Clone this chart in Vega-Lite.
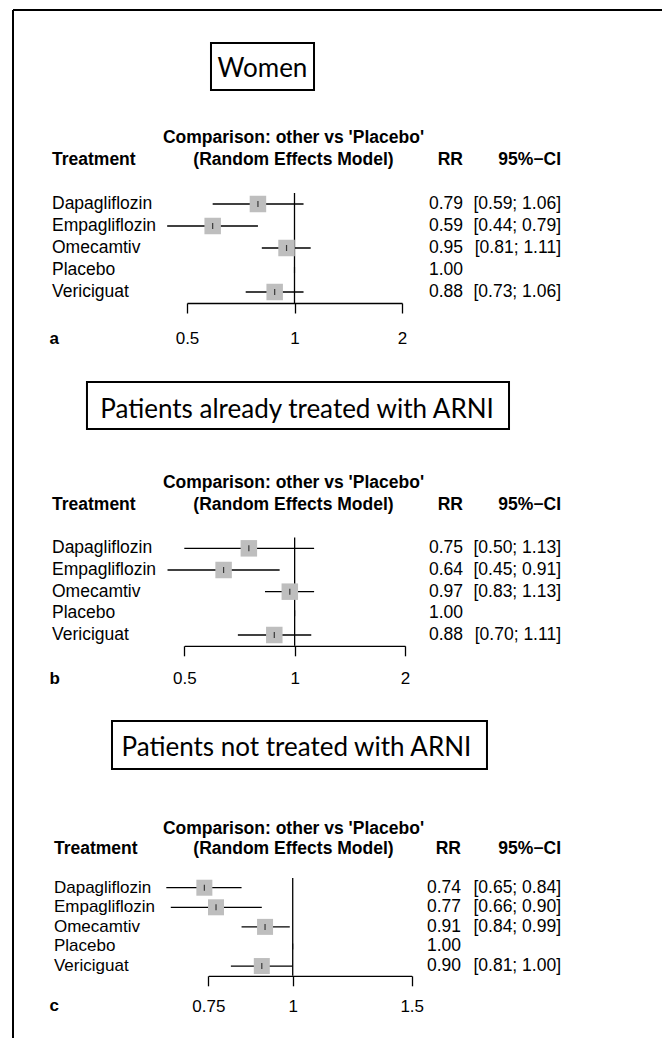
{
  "$schema": "https://vega.github.io/schema/vega-lite/v6.json",
  "padding": {"left": 12, "top": 9, "right": 0, "bottom": 0},
  "background": "white",
  "spacing": 0,
  "bounds": "flush",
  "config": {"view": {"stroke": null}, "font": "Liberation Sans"},
  "datasets": {
    "women": [
      {"Treatment": "Dapagliflozin", "RR": 0.79, "lower": 0.59, "upper": 1.06, "CI": "[0.59; 1.06]"},
      {"Treatment": "Empagliflozin", "RR": 0.59, "lower": 0.44, "upper": 0.79, "CI": "[0.44; 0.79]"},
      {"Treatment": "Omecamtiv", "RR": 0.95, "lower": 0.81, "upper": 1.11, "CI": "[0.81; 1.11]"},
      {"Treatment": "Placebo", "RR": 1.0, "lower": null, "upper": null, "CI": ""},
      {"Treatment": "Vericiguat", "RR": 0.88, "lower": 0.73, "upper": 1.06, "CI": "[0.73; 1.06]"}
    ],
    "arni": [
      {"Treatment": "Dapagliflozin", "RR": 0.75, "lower": 0.50, "upper": 1.13, "CI": "[0.50; 1.13]"},
      {"Treatment": "Empagliflozin", "RR": 0.64, "lower": 0.45, "upper": 0.91, "CI": "[0.45; 0.91]"},
      {"Treatment": "Omecamtiv", "RR": 0.97, "lower": 0.83, "upper": 1.13, "CI": "[0.83; 1.13]"},
      {"Treatment": "Placebo", "RR": 1.0, "lower": null, "upper": null, "CI": ""},
      {"Treatment": "Vericiguat", "RR": 0.88, "lower": 0.70, "upper": 1.11, "CI": "[0.70; 1.11]"}
    ],
    "noarni": [
      {"Treatment": "Dapagliflozin", "RR": 0.74, "lower": 0.65, "upper": 0.84, "CI": "[0.65; 0.84]"},
      {"Treatment": "Empagliflozin", "RR": 0.77, "lower": 0.66, "upper": 0.90, "CI": "[0.66; 0.90]"},
      {"Treatment": "Omecamtiv", "RR": 0.91, "lower": 0.84, "upper": 0.99, "CI": "[0.84; 0.99]"},
      {"Treatment": "Placebo", "RR": 1.0, "lower": null, "upper": null, "CI": ""},
      {"Treatment": "Vericiguat", "RR": 0.90, "lower": 0.81, "upper": 1.00, "CI": "[0.81; 1.00]"}
    ]
  },
  "vconcat": [
    {
      "width": 650, "height": 351,
      "data": {"name": "women"},
      "resolve": {"scale": {"x": "independent", "y": "independent"}},
      "layer": [
        {
          "data": {"values": [{}]},
          "layer": [
            {"mark": {"type": "rule", "color": "black", "strokeWidth": 2},
             "encoding": {
               "x": {"datum": 0, "type": "quantitative", "scale": {"domain": [0, 1], "nice": false, "zero": false}, "axis": null},
               "x2": {"datum": 1},
               "y": {"datum": 0, "type": "quantitative", "scale": {"domain": [0, 1], "reverse": true, "nice": false, "zero": false}, "axis": null}}},
            {"mark": {"type": "rule", "color": "black", "strokeWidth": 2},
             "encoding": {"x": {"datum": 0, "type": "quantitative"}, "y": {"datum": 0, "type": "quantitative"}, "y2": {"datum": 1}}},
            {"mark": {"type": "rect", "fill": "white", "stroke": "black", "strokeWidth": 2},
             "encoding": {"x": {"datum": 0.3046, "type": "quantitative"}, "x2": {"datum": 0.4631}, "y": {"datum": 0.094, "type": "quantitative"}, "y2": {"datum": 0.2279}}},
            {"mark": {"type": "text", "text": "Women", "font": "Lato", "fontSize": 26, "align": "center", "baseline": "alphabetic", "color": "black"},
             "encoding": {"x": {"datum": 0.3838, "type": "quantitative"}, "y": {"datum": 0.1909, "type": "quantitative"}}}
          ]
        },
        {
          "layer": [
            {"mark": {"type": "rule", "color": "black", "strokeWidth": 1.3},
             "encoding": {
               "x": {"field": "lower", "type": "quantitative",
                     "scale": {"type": "log", "domain": [0.5, 2], "range": [174, 389], "nice": false},
                     "axis": {"orient": "bottom", "values": [0.5, 1, 2], "format": "~g", "domain": true, "domainColor": "black", "domainWidth": 1.3, "ticks": true, "tickSize": 10, "tickColor": "black", "tickWidth": 1.3, "grid": false, "labelFontSize": 17, "labelColor": "black", "labelBaseline": "alphabetic", "labelPadding": 30, "labelFlush": false, "labelOverlap": false, "offset": -58, "title": "a", "titleFontSize": 17, "titleFontWeight": "bold", "titleColor": "black", "titleX": 36, "titleY": 40, "titleAlign": "left", "titleBaseline": "alphabetic"}},
               "x2": {"field": "upper"},
               "y": {"field": "Treatment", "type": "nominal",
                     "scale": {"type": "band", "domain": ["h1", "h2", "gap", "Dapagliflozin", "Empagliflozin", "Omecamtiv", "Placebo", "Vericiguat", "axis"], "range": [117, 315], "paddingInner": 0, "paddingOuter": 0},
                     "axis": null}}},
            {"data": {"values": [{}]},
             "mark": {"type": "rule", "color": "black", "strokeWidth": 1.3},
             "encoding": {"x": {"datum": 1, "type": "quantitative"}, "y": {"datum": "Dapagliflozin", "type": "nominal", "bandPosition": 0}, "y2": {"datum": "axis", "bandPosition": 0}}},
            {"transform": [{"filter": "datum.lower != null"}],
             "mark": {"type": "point", "shape": "square", "filled": true, "color": "#bebebe", "opacity": 1, "size": 272},
             "encoding": {"x": {"field": "RR", "type": "quantitative"}, "y": {"field": "Treatment", "type": "nominal"}}},
            {"mark": {"type": "tick", "color": "black", "thickness": 1.2, "size": 6},
             "encoding": {"x": {"field": "RR", "type": "quantitative"}, "y": {"field": "Treatment", "type": "nominal"}}}
          ]
        },
        {
          "layer": [
            {"mark": {"type": "text", "align": "left", "baseline": "middle", "fontSize": 17.5, "color": "black"},
             "encoding": {
               "x": {"datum": 0.06, "type": "quantitative", "scale": {"domain": [0, 1], "nice": false, "zero": false}, "axis": null},
               "y": {"field": "Treatment", "type": "nominal",
                     "scale": {"type": "band", "domain": ["h1", "h2", "gap", "Dapagliflozin", "Empagliflozin", "Omecamtiv", "Placebo", "Vericiguat", "axis"], "range": [117, 315], "paddingInner": 0, "paddingOuter": 0},
                     "axis": null},
               "text": {"field": "Treatment"}}},
            {"mark": {"type": "text", "align": "right", "baseline": "middle", "fontSize": 17.5, "color": "black"},
             "encoding": {"x": {"datum": 0.6923, "type": "quantitative"}, "y": {"field": "Treatment", "type": "nominal"}, "text": {"field": "RR", "type": "quantitative", "format": ".2f"}}},
            {"mark": {"type": "text", "align": "right", "baseline": "middle", "fontSize": 17.5, "color": "black"},
             "encoding": {"x": {"datum": 0.8431, "type": "quantitative"}, "y": {"field": "Treatment", "type": "nominal"}, "text": {"field": "CI"}}},
            {"data": {"values": [{}]},
             "mark": {"type": "text", "text": "Comparison: other vs 'Placebo'", "fontWeight": "bold", "align": "center", "baseline": "middle", "fontSize": 17.5, "color": "black"},
             "encoding": {"x": {"datum": 0.4315, "type": "quantitative"}, "y": {"datum": "h1", "type": "nominal"}}},
            {"data": {"values": [{}]},
             "mark": {"type": "text", "text": "(Random Effects Model)", "fontWeight": "bold", "align": "center", "baseline": "middle", "fontSize": 17.5, "color": "black"},
             "encoding": {"x": {"datum": 0.4315, "type": "quantitative"}, "y": {"datum": "h2", "type": "nominal"}}},
            {"data": {"values": [{}]},
             "mark": {"type": "text", "text": "Treatment", "fontWeight": "bold", "align": "left", "baseline": "middle", "fontSize": 17.5, "color": "black"},
             "encoding": {"x": {"datum": 0.06, "type": "quantitative"}, "y": {"datum": "h2", "type": "nominal"}}},
            {"data": {"values": [{}]},
             "mark": {"type": "text", "text": "RR", "fontWeight": "bold", "align": "right", "baseline": "middle", "fontSize": 17.5, "color": "black"},
             "encoding": {"x": {"datum": 0.6923, "type": "quantitative"}, "y": {"datum": "h2", "type": "nominal"}}},
            {"data": {"values": [{}]},
             "mark": {"type": "text", "text": "95%−CI", "fontWeight": "bold", "align": "right", "baseline": "middle", "fontSize": 17.5, "color": "black"},
             "encoding": {"x": {"datum": 0.8431, "type": "quantitative"}, "y": {"datum": "h2", "type": "nominal"}}}
          ]
        }
      ]
    },
    {
      "width": 650, "height": 340,
      "data": {"name": "arni"},
      "resolve": {"scale": {"x": "independent", "y": "independent"}},
      "layer": [
        {
          "data": {"values": [{}]},
          "layer": [
            {"mark": {"type": "rule", "color": "black", "strokeWidth": 2},
             "encoding": {
               "x": {"datum": 0, "type": "quantitative", "scale": {"domain": [0, 1], "nice": false, "zero": false}, "axis": null},
               "y": {"datum": 0, "type": "quantitative", "scale": {"domain": [0, 1], "reverse": true, "nice": false, "zero": false}, "axis": null},
               "y2": {"datum": 1}}},
            {"mark": {"type": "rect", "fill": "white", "stroke": "black", "strokeWidth": 2},
             "encoding": {"x": {"datum": 0.1138, "type": "quantitative"}, "x2": {"datum": 0.7631}, "y": {"datum": 0.0618, "type": "quantitative"}, "y2": {"datum": 0.2}}},
            {"mark": {"type": "text", "text": "Patients already treated with ARNI", "font": "Lato", "fontSize": 26, "align": "center", "baseline": "alphabetic", "color": "black"},
             "encoding": {"x": {"datum": 0.437, "type": "quantitative"}, "y": {"datum": 0.1676, "type": "quantitative"}}}
          ]
        },
        {
          "layer": [
            {"mark": {"type": "rule", "color": "black", "strokeWidth": 1.3},
             "encoding": {
               "x": {"field": "lower", "type": "quantitative",
                     "scale": {"type": "log", "domain": [0.5, 2], "range": [171.3, 392], "nice": false},
                     "axis": {"orient": "bottom", "values": [0.5, 1, 2], "format": "~g", "domain": true, "domainColor": "black", "domainWidth": 1.3, "ticks": true, "tickSize": 10, "tickColor": "black", "tickWidth": 1.3, "grid": false, "labelFontSize": 17, "labelColor": "black", "labelBaseline": "alphabetic", "labelPadding": 28, "labelFlush": false, "labelOverlap": false, "offset": -55.2, "title": "b", "titleFontSize": 17, "titleFontWeight": "bold", "titleColor": "black", "titleX": 36, "titleY": 38, "titleAlign": "left", "titleBaseline": "alphabetic"}},
               "x2": {"field": "upper"},
               "y": {"field": "Treatment", "type": "nominal",
                     "scale": {"type": "band", "domain": ["h1", "h2", "gap", "Dapagliflozin", "Empagliflozin", "Omecamtiv", "Placebo", "Vericiguat", "axis"], "range": [111.5, 306.5], "paddingInner": 0, "paddingOuter": 0},
                     "axis": null}}},
            {"data": {"values": [{}]},
             "mark": {"type": "rule", "color": "black", "strokeWidth": 1.3},
             "encoding": {"x": {"datum": 1, "type": "quantitative"}, "y": {"datum": "Dapagliflozin", "type": "nominal", "bandPosition": 0}, "y2": {"datum": "axis", "bandPosition": 0}}},
            {"transform": [{"filter": "datum.lower != null"}],
             "mark": {"type": "point", "shape": "square", "filled": true, "color": "#bebebe", "opacity": 1, "size": 272},
             "encoding": {"x": {"field": "RR", "type": "quantitative"}, "y": {"field": "Treatment", "type": "nominal"}}},
            {"mark": {"type": "tick", "color": "black", "thickness": 1.2, "size": 6},
             "encoding": {"x": {"field": "RR", "type": "quantitative"}, "y": {"field": "Treatment", "type": "nominal"}}}
          ]
        },
        {
          "layer": [
            {"mark": {"type": "text", "align": "left", "baseline": "middle", "fontSize": 17.5, "color": "black"},
             "encoding": {
               "x": {"datum": 0.06, "type": "quantitative", "scale": {"domain": [0, 1], "nice": false, "zero": false}, "axis": null},
               "y": {"field": "Treatment", "type": "nominal",
                     "scale": {"type": "band", "domain": ["h1", "h2", "gap", "Dapagliflozin", "Empagliflozin", "Omecamtiv", "Placebo", "Vericiguat", "axis"], "range": [111.5, 306.5], "paddingInner": 0, "paddingOuter": 0},
                     "axis": null},
               "text": {"field": "Treatment"}}},
            {"mark": {"type": "text", "align": "right", "baseline": "middle", "fontSize": 17.5, "color": "black"},
             "encoding": {"x": {"datum": 0.6923, "type": "quantitative"}, "y": {"field": "Treatment", "type": "nominal"}, "text": {"field": "RR", "type": "quantitative", "format": ".2f"}}},
            {"mark": {"type": "text", "align": "right", "baseline": "middle", "fontSize": 17.5, "color": "black"},
             "encoding": {"x": {"datum": 0.8431, "type": "quantitative"}, "y": {"field": "Treatment", "type": "nominal"}, "text": {"field": "CI"}}},
            {"data": {"values": [{}]},
             "mark": {"type": "text", "text": "Comparison: other vs 'Placebo'", "fontWeight": "bold", "align": "center", "baseline": "middle", "fontSize": 17.5, "color": "black"},
             "encoding": {"x": {"datum": 0.4315, "type": "quantitative"}, "y": {"datum": "h1", "type": "nominal"}}},
            {"data": {"values": [{}]},
             "mark": {"type": "text", "text": "(Random Effects Model)", "fontWeight": "bold", "align": "center", "baseline": "middle", "fontSize": 17.5, "color": "black"},
             "encoding": {"x": {"datum": 0.4315, "type": "quantitative"}, "y": {"datum": "h2", "type": "nominal"}}},
            {"data": {"values": [{}]},
             "mark": {"type": "text", "text": "Treatment", "fontWeight": "bold", "align": "left", "baseline": "middle", "fontSize": 17.5, "color": "black"},
             "encoding": {"x": {"datum": 0.06, "type": "quantitative"}, "y": {"datum": "h2", "type": "nominal"}}},
            {"data": {"values": [{}]},
             "mark": {"type": "text", "text": "RR", "fontWeight": "bold", "align": "right", "baseline": "middle", "fontSize": 17.5, "color": "black"},
             "encoding": {"x": {"datum": 0.6923, "type": "quantitative"}, "y": {"datum": "h2", "type": "nominal"}}},
            {"data": {"values": [{}]},
             "mark": {"type": "text", "text": "95%−CI", "fontWeight": "bold", "align": "right", "baseline": "middle", "fontSize": 17.5, "color": "black"},
             "encoding": {"x": {"datum": 0.8431, "type": "quantitative"}, "y": {"datum": "h2", "type": "nominal"}}}
          ]
        }
      ]
    },
    {
      "width": 650, "height": 338,
      "data": {"name": "noarni"},
      "resolve": {"scale": {"x": "independent", "y": "independent"}},
      "layer": [
        {
          "data": {"values": [{}]},
          "layer": [
            {"mark": {"type": "rule", "color": "black", "strokeWidth": 2},
             "encoding": {
               "x": {"datum": 0, "type": "quantitative", "scale": {"domain": [0, 1], "nice": false, "zero": false}, "axis": null},
               "y": {"datum": 0, "type": "quantitative", "scale": {"domain": [0, 1], "reverse": true, "nice": false, "zero": false}, "axis": null},
               "y2": {"datum": 1}}},
            {"mark": {"type": "rect", "fill": "white", "stroke": "black", "strokeWidth": 2},
             "encoding": {"x": {"datum": 0.1523, "type": "quantitative"}, "x2": {"datum": 0.7292}, "y": {"datum": 0.0592, "type": "quantitative"}, "y2": {"datum": 0.2012}}},
            {"mark": {"type": "text", "text": "Patients not treated with ARNI", "font": "Lato", "fontSize": 26, "align": "center", "baseline": "alphabetic", "color": "black"},
             "encoding": {"x": {"datum": 0.436, "type": "quantitative"}, "y": {"datum": 0.1627, "type": "quantitative"}}}
          ]
        },
        {
          "layer": [
            {"mark": {"type": "rule", "color": "black", "strokeWidth": 1.3},
             "encoding": {
               "x": {"field": "lower", "type": "quantitative",
                     "scale": {"type": "log", "domain": [0.75, 1.5], "range": [195.3, 398.7], "nice": false},
                     "axis": {"orient": "bottom", "values": [0.75, 1, 1.5], "format": "~g", "domain": true, "domainColor": "black", "domainWidth": 1.3, "ticks": true, "tickSize": 10, "tickColor": "black", "tickWidth": 1.3, "grid": false, "labelFontSize": 17, "labelColor": "black", "labelBaseline": "alphabetic", "labelPadding": 26, "labelFlush": false, "labelOverlap": false, "offset": -63.2, "title": "c", "titleFontSize": 17, "titleFontWeight": "bold", "titleColor": "black", "titleX": 36, "titleY": 35, "titleAlign": "left", "titleBaseline": "alphabetic"}},
               "x2": {"field": "upper"},
               "y": {"field": "Treatment", "type": "nominal",
                     "scale": {"type": "band", "domain": ["h1", "h2", "gap", "Dapagliflozin", "Empagliflozin", "Omecamtiv", "Placebo", "Vericiguat", "axis"], "range": [118.2, 294.4], "paddingInner": 0, "paddingOuter": 0},
                     "axis": null}}},
            {"data": {"values": [{}]},
             "mark": {"type": "rule", "color": "black", "strokeWidth": 1.3},
             "encoding": {"x": {"datum": 1, "type": "quantitative"}, "y": {"datum": "Dapagliflozin", "type": "nominal", "bandPosition": 0}, "y2": {"datum": "axis", "bandPosition": 0}}},
            {"transform": [{"filter": "datum.lower != null"}],
             "mark": {"type": "point", "shape": "square", "filled": true, "color": "#bebebe", "opacity": 1, "size": 256},
             "encoding": {"x": {"field": "RR", "type": "quantitative"}, "y": {"field": "Treatment", "type": "nominal"}}},
            {"mark": {"type": "tick", "color": "black", "thickness": 1.2, "size": 6},
             "encoding": {"x": {"field": "RR", "type": "quantitative"}, "y": {"field": "Treatment", "type": "nominal"}}}
          ]
        },
        {
          "layer": [
            {"mark": {"type": "text", "align": "left", "baseline": "middle", "fontSize": 17, "color": "black"},
             "encoding": {
               "x": {"datum": 0.063, "type": "quantitative", "scale": {"domain": [0, 1], "nice": false, "zero": false}, "axis": null},
               "y": {"field": "Treatment", "type": "nominal",
                     "scale": {"type": "band", "domain": ["h1", "h2", "gap", "Dapagliflozin", "Empagliflozin", "Omecamtiv", "Placebo", "Vericiguat", "axis"], "range": [118.2, 294.4], "paddingInner": 0, "paddingOuter": 0},
                     "axis": null},
               "text": {"field": "Treatment"}}},
            {"mark": {"type": "text", "align": "right", "baseline": "middle", "fontSize": 17.5, "color": "black"},
             "encoding": {"x": {"datum": 0.6892, "type": "quantitative"}, "y": {"field": "Treatment", "type": "nominal"}, "text": {"field": "RR", "type": "quantitative", "format": ".2f"}}},
            {"mark": {"type": "text", "align": "right", "baseline": "middle", "fontSize": 17.5, "color": "black"},
             "encoding": {"x": {"datum": 0.8431, "type": "quantitative"}, "y": {"field": "Treatment", "type": "nominal"}, "text": {"field": "CI"}}},
            {"data": {"values": [{}]},
             "mark": {"type": "text", "text": "Comparison: other vs 'Placebo'", "fontWeight": "bold", "align": "center", "baseline": "middle", "fontSize": 17.5, "color": "black"},
             "encoding": {"x": {"datum": 0.4315, "type": "quantitative"}, "y": {"datum": "h1", "type": "nominal"}}},
            {"data": {"values": [{}]},
             "mark": {"type": "text", "text": "(Random Effects Model)", "fontWeight": "bold", "align": "center", "baseline": "middle", "fontSize": 17.5, "color": "black"},
             "encoding": {"x": {"datum": 0.4315, "type": "quantitative"}, "y": {"datum": "h2", "type": "nominal"}}},
            {"data": {"values": [{}]},
             "mark": {"type": "text", "text": "Treatment", "fontWeight": "bold", "align": "left", "baseline": "middle", "fontSize": 17.5, "color": "black"},
             "encoding": {"x": {"datum": 0.063, "type": "quantitative"}, "y": {"datum": "h2", "type": "nominal"}}},
            {"data": {"values": [{}]},
             "mark": {"type": "text", "text": "RR", "fontWeight": "bold", "align": "right", "baseline": "middle", "fontSize": 17.5, "color": "black"},
             "encoding": {"x": {"datum": 0.6892, "type": "quantitative"}, "y": {"datum": "h2", "type": "nominal"}}},
            {"data": {"values": [{}]},
             "mark": {"type": "text", "text": "95%−CI", "fontWeight": "bold", "align": "right", "baseline": "middle", "fontSize": 17.5, "color": "black"},
             "encoding": {"x": {"datum": 0.8431, "type": "quantitative"}, "y": {"datum": "h2", "type": "nominal"}}}
          ]
        }
      ]
    }
  ]
}
